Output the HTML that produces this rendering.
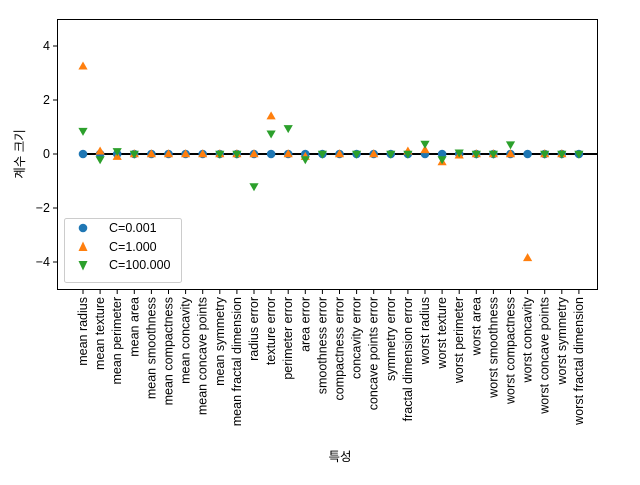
<!DOCTYPE html>
<html><head><meta charset="utf-8"><style>
body{margin:0;background:#fff}
svg text{font-family:"Liberation Sans","Noto Sans CJK KR",sans-serif;font-size:12.5px;fill:#000}
</style></head><body>
<svg id="s" width="640" height="480" xmlns="http://www.w3.org/2000/svg">
<rect width="640" height="480" fill="#fff"/>
<line x1="83" y1="154" x2="597" y2="154" stroke="#000" stroke-width="2"/>
<g id="m"></g>
<rect x="57.5" y="19.5" width="540" height="270" fill="none" stroke="#000" stroke-width="1"/>
<g stroke="#000">
<line x1="57" y1="46" x2="53" y2="46"/><line x1="57" y1="100" x2="53" y2="100"/><line x1="57" y1="154" x2="53" y2="154"/><line x1="57" y1="208" x2="53" y2="208"/><line x1="57" y1="262" x2="53" y2="262"/>
</g>
<g text-anchor="end" dominant-baseline="central">
<text x="50" y="46">4</text><text x="50" y="100">2</text><text x="50" y="154">0</text><text x="50" y="208">−2</text><text x="50" y="262">−4</text>
</g>
<text transform="translate(24,154) rotate(-90)" text-anchor="middle">계수 크기</text>
<text x="340" y="461" text-anchor="middle">특성</text>
<g id="xl" text-anchor="end" dominant-baseline="central">
<text>mean radius</text><text>mean texture</text><text>mean perimeter</text><text>mean area</text><text>mean smoothness</text><text>mean compactness</text><text>mean concavity</text><text>mean concave points</text><text>mean symmetry</text><text>mean fractal dimension</text><text>radius error</text><text>texture error</text><text>perimeter error</text><text>area error</text><text>smoothness error</text><text>compactness error</text><text>concavity error</text><text>concave points error</text><text>symmetry error</text><text>fractal dimension error</text><text>worst radius</text><text>worst texture</text><text>worst perimeter</text><text>worst area</text><text>worst smoothness</text><text>worst compactness</text><text>worst concavity</text><text>worst concave points</text><text>worst symmetry</text><text>worst fractal dimension</text>
</g>
<g id="ticks" stroke="#000"></g>
<rect x="64.5" y="218.5" width="117" height="64" rx="2" fill="#fff" fill-opacity="0.8" stroke="#ccc"/>
<circle cx="83" cy="228" r="4.3" fill="#1f77b4"/>
<polygon points="83,241.5 87.5,251 78.5,251" fill="#ff7f0e"/>
<polygon points="78.5,261 87.5,261 83,270.5" fill="#2ca02c"/>
<text x="109" y="228" dominant-baseline="central">C=0.001</text>
<text x="109" y="247" dominant-baseline="central">C=1.000</text>
<text x="109" y="265" dominant-baseline="central">C=100.000</text>
</svg>
<script>
var X=i=>83+17.1*i,Y=v=>154-27*v;
var ts=document.querySelectorAll('#xl text');
ts.forEach((t,i)=>t.setAttribute('transform','translate('+X(i)+',297) rotate(-90)'));
var tk='',m='';
for(var i=0;i<30;i++){tk+='<line x1="'+X(i)+'" y1="290" x2="'+X(i)+'" y2="294"/>';}
document.getElementById('ticks').innerHTML=tk;
for(var i=0;i<30;i++){m+='<circle cx="'+X(i)+'" cy="154" r="4.3" fill="#1f77b4"/>';}
var o=[3.25,0.1,-0.1,0,0,0,0,0,0,0,0,1.4,0,-0.1,null,0,null,0,null,0.1,0.15,-0.3,-0.05,0,0,0,-3.85,0,0,null];
var g=[0.85,-0.2,0.1,0,null,null,null,null,0,0,-1.2,0.75,0.95,-0.2,0,null,0,null,0,0,0.37,-0.2,0.05,0,0,0.35,null,0,0,0];
o.forEach((v,i)=>{if(v===null)return;var x=X(i),y=Y(v);m+='<polygon points="'+x+','+(y-4.8)+' '+(x+4.6)+','+(y+3.2)+' '+(x-4.6)+','+(y+3.2)+'" fill="#ff7f0e"/>';});
g.forEach((v,i)=>{if(v===null)return;var x=X(i),y=Y(v);m+='<polygon points="'+(x-4.6)+','+(y-3.2)+' '+(x+4.6)+','+(y-3.2)+' '+x+','+(y+4.8)+'" fill="#2ca02c"/>';});
document.getElementById('m').innerHTML=m;
</script>
</body></html>
